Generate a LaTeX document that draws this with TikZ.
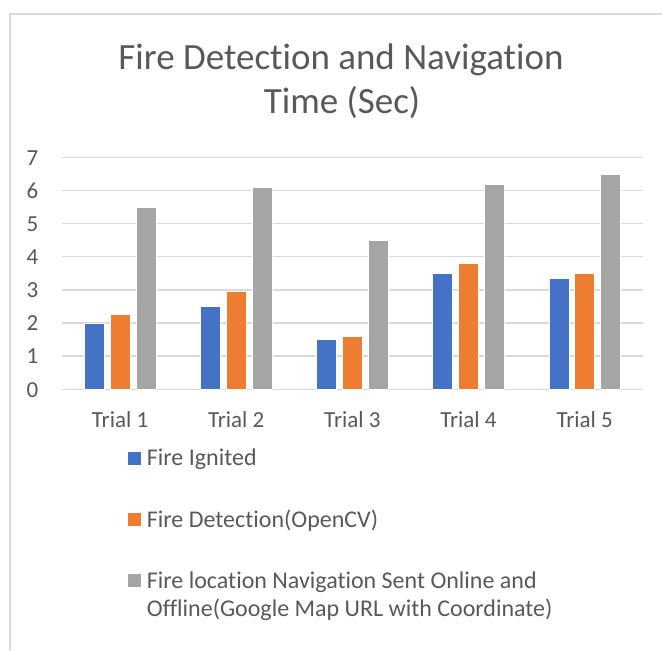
\documentclass[tikz,border=0pt]{standalone}
\usepackage{fontspec}
\setmainfont{Carlito}[RawFeature={-liga;-clig;-calt;-dlig}]
\definecolor{txt}{HTML}{595959}
\definecolor{grid}{HTML}{D9D9D9}
\definecolor{sblue}{HTML}{4472C4}
\definecolor{sorange}{HTML}{ED7D31}
\definecolor{sgray}{HTML}{A5A5A5}
\begin{document}
\begin{tikzpicture}[x=1pt,y=-1pt,
  gridline/.style={draw=grid,line width=1.5pt},
  axlabel/.style={text=txt,font=\fontsize{23}{27}\selectfont,inner sep=0pt,anchor=base},
  legtext/.style={text=txt,font=\fontsize{24}{29}\selectfont,inner sep=0pt,anchor=base west,align=left},
  titletext/.style={text=txt,font=\fontsize{37}{44}\selectfont,inner sep=0pt,anchor=base},
  barA/.style={fill=sblue,draw=white,line width=0.6pt},
  barB/.style={fill=sorange,draw=white,line width=0.6pt},
  barC/.style={fill=sgray,draw=white,line width=0.6pt},
  legsq/.style={inner sep=0pt,minimum size=13pt,anchor=south west}]
\useasboundingbox (0,0) rectangle (662,651);
\fill[white] (0,0) rectangle (662,651);
% chart border
\begin{scope}
\clip (0,0) rectangle (662,651);
\draw[grid,line width=2pt] (9.5,13.5) rectangle (700,700);
\end{scope}
% title
\node[titletext] (t1) at (341,69.3) {Fire Detection and Navigation};
\node[titletext] (t2) at (342,113.3) {Time (Sec)};
% gridlines and y labels
\def\yz{389.3}
\def\yu{33.14}
\foreach \v in {0,...,7}{
  \draw[gridline] (62,\yz-\v*\yu) -- (642.7,\yz-\v*\yu);
  \node[axlabel] (y\v) at (32.5,\yz-\v*\yu+7.8) {\v};
}
% bars
\def\cw{116.14}
\foreach \k/\a/\b/\c in {1/2/2.25/5.5, 2/2.5/2.95/6.1, 3/1.5/1.6/4.5, 4/3.5/3.8/6.2, 5/3.35/3.5/6.5}{
  \pgfmathsetmacro{\cx}{62+\cw*(\k-0.5)}
  \draw[barA] (\cx-35.8,\yz) rectangle (\cx-15.8,\yz-\a*\yu);
  \draw[barB] (\cx-10,\yz) rectangle (\cx+10,\yz-\b*\yu);
  \draw[barC] (\cx+15.8,\yz) rectangle (\cx+35.8,\yz-\c*\yu);
  \node[axlabel] (x\k) at (\cx,427.3) {Trial \k};
}
% legend
\node[legsq,fill=sblue] (l1) at (127.5,465) {};
\node[legtext] (lt1) at (146.7,465) {Fire Ignited};
\node[legsq,fill=sorange] (l2) at (127.5,526.5) {};
\node[legtext] (lt2) at (146.7,527) {Fire Detection(OpenCV)};
\node[legsq,fill=sgray] (l3) at (127.5,587.5) {};
\node[legtext] (lt3) at (146.7,588) {Fire location Navigation Sent Online and};
\node[legtext] (lt4) at (146.7,616.5) {Offline(Google Map URL with Coordinate)};
\end{tikzpicture}
\end{document}
